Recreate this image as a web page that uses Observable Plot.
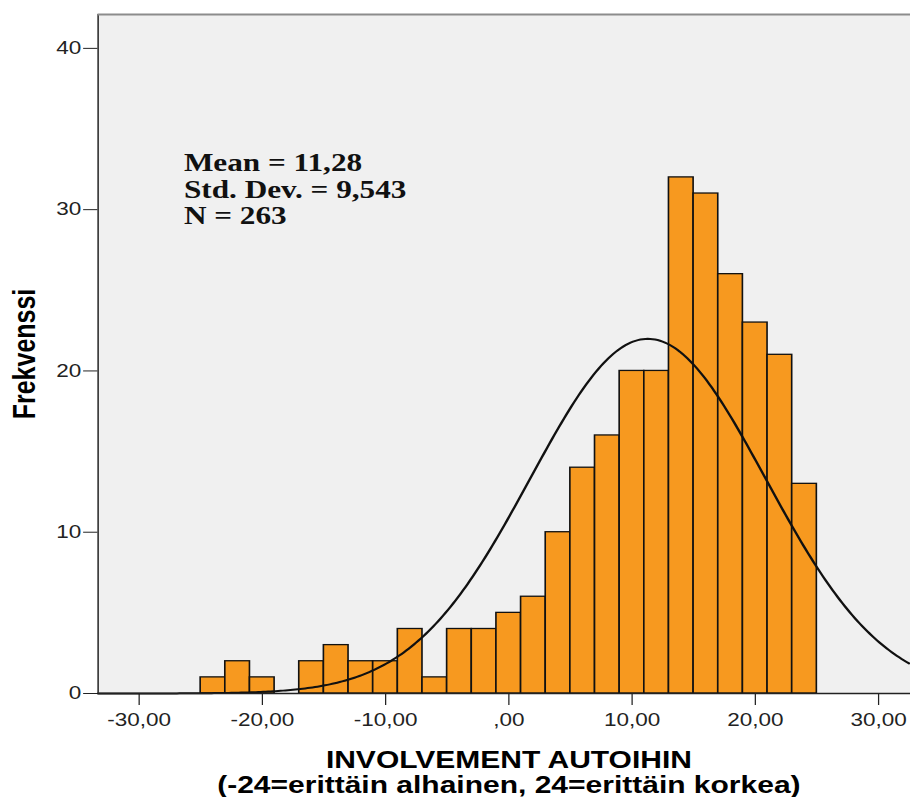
<!DOCTYPE html>
<html><head><meta charset="utf-8">
<script src="https://cdn.jsdelivr.net/npm/d3@7"></script>
<script src="https://cdn.jsdelivr.net/npm/@observablehq/plot@0.6"></script>
<style>
html,body{margin:0;padding:0;background:#fff;overflow:hidden;}
#chart{width:910px;height:797px;overflow:hidden;}
#chart svg{transform:scaleX(1.25);transform-origin:0 0;display:block;max-width:none;}
</style></head><body><div id="chart"></div>
<script>
// Histogram bins (lower edge, width 2) and frequencies
const binLower = [-25,-23,-21,-19,-17,-15,-13,-11,-9,-7,-5,-3,-1,1,3,5,7,9,11,13,15,17,19,21,23];
const binWidth = 2;
const counts   = [1,2,1,0,2,3,2,2,4,1,4,4,5,6,10,14,16,20,20,32,31,26,23,21,13];
// Axis ticks
const xTicks = [-30,-20,-10,0,10,20,30];
const xTickLabels = ["-30,00","-20,00","-10,00",",00","10,00","20,00","30,00"];
const yTicks = [0,10,20,30,40];
// Summary statistics (the normal curve is defined by these)
const statLabels = ["Mean = 11,28","Std. Dev. = 9,543","N = 263"];
const meanValue = 11.28, sdValue = 9.543, nValue = 263;
// Titles
const xTitle = ["INVOLVEMENT AUTOIHIN","(-24=erittäin alhainen, 24=erittäin korkea)"];
const yTitle = "Frekvenssi";

const xDomain = [-33.33, 32.6];
const yDomain = [0, 42.1];

const bins = binLower.map((x0,i)=>({x1:x0, x2:x0+binWidth, count:counts[i]})).filter(d=>d.count>0);
const peak = nValue*binWidth/(sdValue*Math.sqrt(2*Math.PI));
const curve = d3.range(xDomain[0], xDomain[1]+0.001, 0.2)
  .map(x=>({x, y: peak*Math.exp(-0.5*((x-meanValue)/sdValue)**2)}));

const plot = Plot.plot({
  width: 728, height: 797,
  marginLeft: 78, marginRight: 0, marginTop: 14, marginBottom: 104,
  style: {fontFamily:"'Liberation Sans', Arial, sans-serif", fontSize:"18px", background:"#fff", color:"#222"},
  x: {domain:xDomain, ticks:xTicks, tickFormat:d=>xTickLabels[xTicks.indexOf(d)], tickSize:12, tickPadding:8, label:null},
  y: {domain:yDomain, ticks:yTicks, tickSize:11.5, tickPadding:2, label:null},
  marks: [
    Plot.frame({fill:"#f0f0f0", stroke:"none"}),
    Plot.rectY(bins, {x1:"x1", x2:"x2", y:"count", fill:"#f7991f", stroke:"#111", strokeWidth:1.3}),
    Plot.line(curve, {x:"x", y:"y", stroke:"#111", strokeWidth:2}),
    Plot.ruleY([0], {stroke:"#222", strokeWidth:1.5}),
    Plot.ruleX([xDomain[0]], {stroke:"#333", strokeWidth:1.3}),
    Plot.ruleY([yDomain[1]], {stroke:"#8c8c8c", strokeWidth:2}),
    Plot.text([statLabels.join("\n")], {text:d=>d, frameAnchor:"top-left", dx:68.6, dy:138, lineAnchor:"top", textAnchor:"start", lineHeight:1.06,
      fontFamily:"'Liberation Serif', 'Times New Roman', serif", fontWeight:"bold", fontSize:25, fill:"#111"}),
    Plot.text([xTitle[0]], {text:d=>d, x:[0], frameAnchor:"bottom", lineAnchor:"bottom", textAnchor:"middle", dy:74, fontWeight:"bold", fontSize:24, fill:"#000"}),
    Plot.text([xTitle[1]], {text:d=>d, x:[0], frameAnchor:"bottom", lineAnchor:"bottom", textAnchor:"middle", dy:99, fontWeight:"bold", fontSize:24, fill:"#000"}),
    Plot.text([yTitle], {text:d=>d, frameAnchor:"left", dx:-58.2, rotate:-90, textAnchor:"middle", lineAnchor:"middle", fontWeight:"bold", fontSize:25, fill:"#000"})
  ]
});
document.getElementById("chart").appendChild(plot);
</script>
</body></html>
